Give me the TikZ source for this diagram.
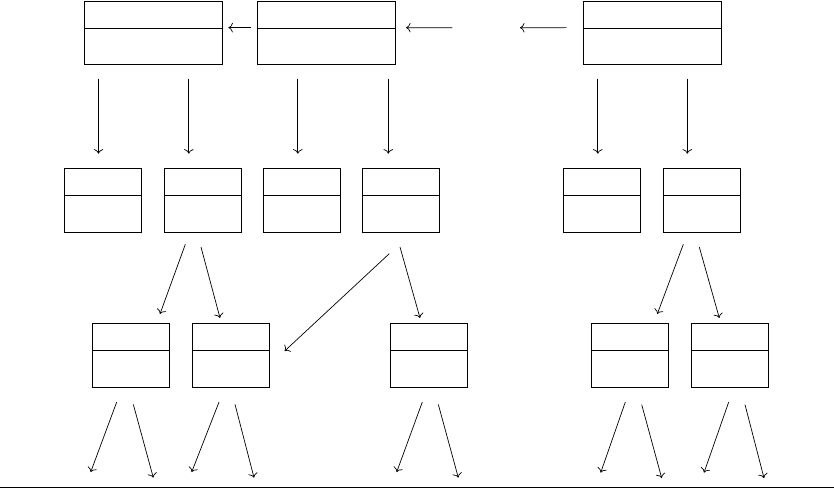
\documentclass[tikz,border=0pt]{standalone}
\usetikzlibrary{calc,arrows.meta}
\tikzset{
  cell/.style={draw,inner sep=0pt,minimum width=77pt,minimum height=64pt,
    path picture={\draw ([yshift=-27pt]path picture bounding box.north west)
      -- ([yshift=-27pt]path picture bounding box.north east);}},
  wide cell/.style={cell,minimum width=138pt,minimum height=63pt},
}
\begin{document}
\begin{tikzpicture}[x=1pt,y=-1pt,line width=0.7pt,>={To[length=4.5pt,width=9.5pt]}]
\useasboundingbox (0,0) rectangle (834,489);
% top row
\node[wide cell] (top1) at (153,32.5) {};
\node[wide cell] (top2) at (326,32.5) {};
\node[wide cell] (top3) at (652,32.5) {};
\coordinate (gapR) at (452.3,27.7);
\coordinate (gapL) at (520,27.7);
\draw[->] ($(top2.north west)+(-6,27)$) -- ($(top1.north east)+(6,27)$);
\draw[->] (gapR) -- ($(top2.north east)+(10.7,27)$);
\draw[->] ($(top3.north west)+(-16,27)$) -- (gapL);
% middle row
\node[cell] (mid1) at (103,200.3) {};
\node[cell] (mid2) at (202.8,200.3) {};
\node[cell] (mid3) at (301.8,200.3) {};
\node[cell] (mid4) at (401.3,200.3) {};
\node[cell] (mid5) at (601.8,200.3) {};
\node[cell] (mid6) at (701.8,200.3) {};
\foreach \m/\t/\dx in {mid1/top1/-4.5,mid2/top1/-14,mid3/top2/-4,
                       mid4/top2/-13,mid5/top3/-4,mid6/top3/-14.5}
  \draw[->] ($(\m.north |- \t.south)+(\dx,14.3)$) -- ($(\m.north)+(\dx,-14.3)$);
% lower row
\node[cell] (low1) at (130.8,355.2) {};
\node[cell] (low2) at (230.8,355.2) {};
\node[cell] (low3) at (429.3,355.2) {};
\node[cell] (low4) at (629.8,355.2) {};
\node[cell] (low5) at (729.8,355.2) {};
\draw[->] ($(mid2.south)+(-17.5,11.7)$) -- ($(low1.north)+(29.2,-8.9)$);
\draw[->] ($(mid2.south)+(-1.8,14.4)$) -- ($(low2.north)+(-10.8,-4.9)$);
\draw[->] ($(mid4.south)+(-12,21)$) -- ($(low2.east)+(15,-4.2)$);
\draw[->] ($(mid4.south)+(-1.3,14.4)$) -- ($(low3.north)+(-9.3,-4.9)$);
\draw[->] ($(mid6.south)+(-18.5,11.7)$) -- ($(low4.north)+(27.5,-8.9)$);
\draw[->] ($(mid6.south)+(-2.5,14.4)$) -- ($(low5.north)+(-10.5,-4.9)$);
% arrows leaving the picture
\foreach \n/\a/\b/\c/\d in {low1/-14.1/14.5/-40.1/84.5,low1/2.5/16.8/22.5/90.1,
    low2/-11.8/14.5/-39.1/84.5,low2/4.2/16.8/23.2/90.1,
    low3/-7/14.5/-32.6/84.5,low3/9/16.8/29/90.1,
    low4/-4.5/14.5/-29.1/85.1,low4/11.9/17.1/31.9/90.5,
    low5/-1.1/14.5/-25.8/85.1,low5/15.2/17.1/34.2/90.5}
  \draw[->] ($(\n.south)+(\a,\b)$) -- ($(\n.south)+(\c,\d)$);
\draw (0,487.8) -- (834,487.8);
\end{tikzpicture}
\end{document}
